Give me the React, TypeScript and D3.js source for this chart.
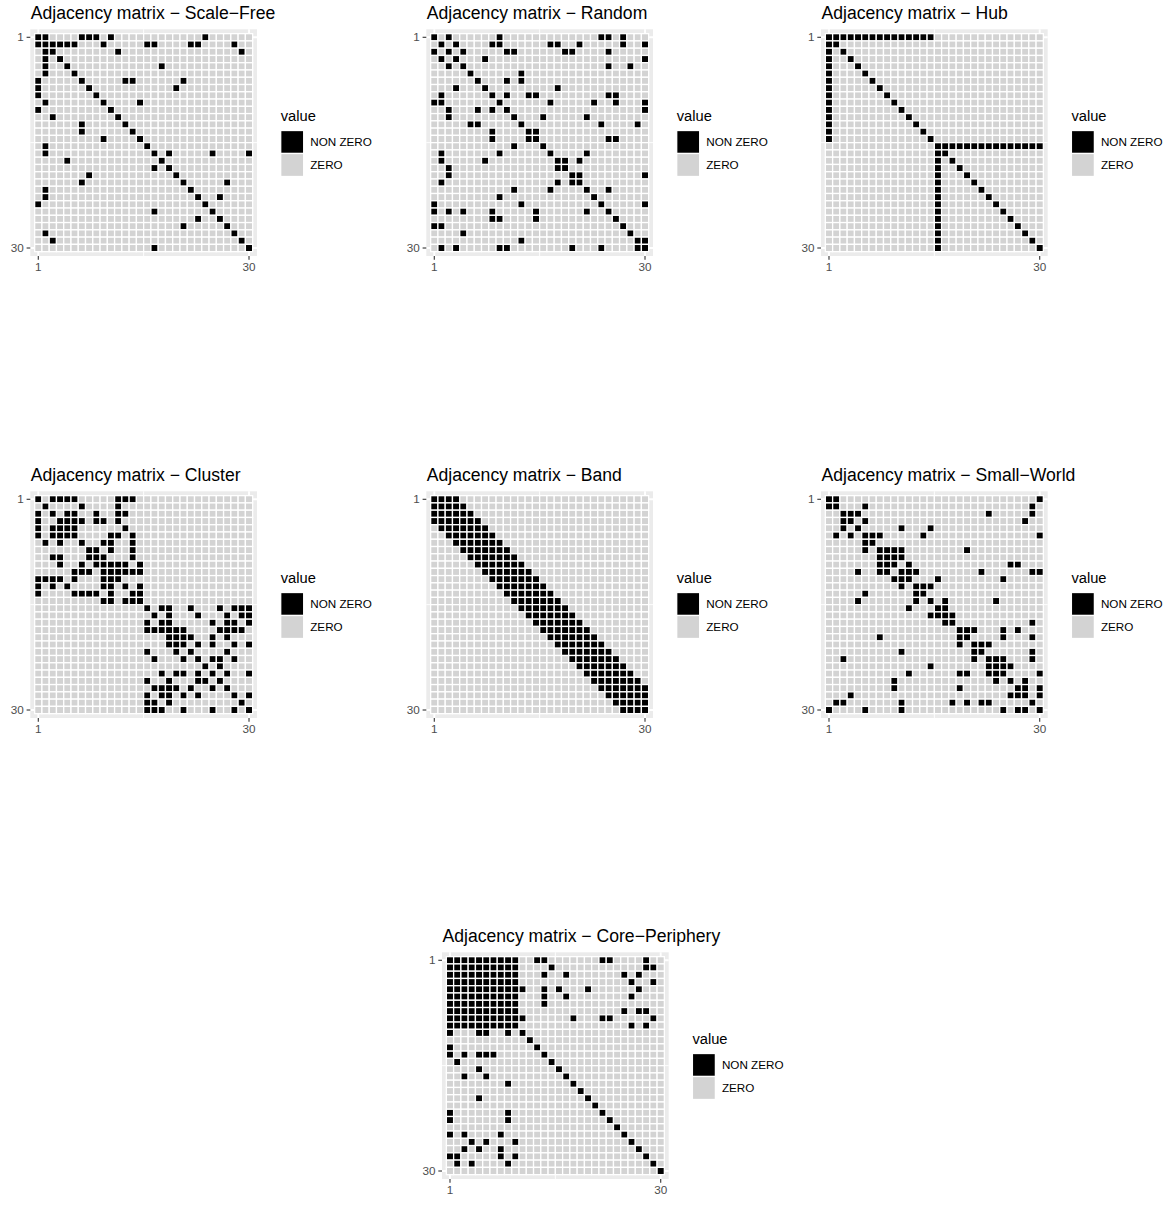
import React from "react";
import * as d3 from "d3";

const N = 30;
const tickLabels = ["1", "30"];
const tickValues = [1, 30];
const legendTitle = "value";
const legendLabels = ["NON ZERO", "ZERO"];
const legendColors = ["#000000", "#D3D3D3"];

const scaleFreeRows: number[][] = [
  [1, 2, 7, 8, 9, 11, 24],
  [1, 2, 3, 4, 5, 6, 10, 16, 17, 22, 23, 28],
  [2, 3, 12, 29],
  [2, 4],
  [2, 5, 18],
  [2, 6],
  [1, 7, 13, 14, 21],
  [1, 8, 20],
  [1, 9],
  [2, 10, 15],
  [1, 11],
  [3, 12],
  [7, 13],
  [7, 14],
  [10, 15],
  [2, 16],
  [2, 17, 19, 25, 30],
  [5, 18],
  [17, 19],
  [8, 20],
  [7, 21, 27],
  [2, 22],
  [2, 23, 26],
  [1, 24],
  [17, 25],
  [23, 26],
  [21, 27],
  [2, 28],
  [3, 29],
  [17, 30],
];

const randomRows: number[][] = [
  [1, 3, 10, 24, 25, 27],
  [2, 4, 9, 10, 17, 18, 21, 27, 30],
  [1, 3, 5, 11, 12, 19, 20, 25],
  [2, 4, 8, 30],
  [3, 5, 25, 28],
  [6, 13],
  [7, 11, 13],
  [4, 8, 18],
  [2, 9, 11, 14, 15, 25, 26],
  [1, 2, 10, 17, 23, 26, 30],
  [3, 7, 9, 11, 30],
  [3, 12, 16, 22],
  [6, 7, 13, 24, 29],
  [9, 14, 15],
  [9, 14, 15, 25, 26],
  [12, 16],
  [2, 10, 17, 22],
  [2, 8, 18, 19, 21],
  [3, 18, 19],
  [3, 20, 21, 30],
  [2, 18, 20, 21],
  [12, 17, 22, 25],
  [10, 23],
  [1, 13, 24, 30],
  [1, 3, 5, 9, 15, 22, 25],
  [9, 10, 15, 26],
  [1, 2, 27],
  [5, 28],
  [13, 29, 30],
  [2, 4, 10, 11, 20, 24, 29, 30],
];

const hubRows: number[][] = [
  [1, 2, 3, 4, 5, 6, 7, 8, 9, 10, 11, 12, 13, 14, 15],
  [1, 2],
  [1, 3],
  [1, 4],
  [1, 5],
  [1, 6],
  [1, 7],
  [1, 8],
  [1, 9],
  [1, 10],
  [1, 11],
  [1, 12],
  [1, 13],
  [1, 14],
  [1, 15],
  [16, 17, 18, 19, 20, 21, 22, 23, 24, 25, 26, 27, 28, 29, 30],
  [16, 17],
  [16, 18],
  [16, 19],
  [16, 20],
  [16, 21],
  [16, 22],
  [16, 23],
  [16, 24],
  [16, 25],
  [16, 26],
  [16, 27],
  [16, 28],
  [16, 29],
  [16, 30],
];

const clusterRows: number[][] = [
  [1, 3, 4, 5, 6, 12, 13, 14],
  [2, 7, 12],
  [1, 3, 5, 6, 9, 12, 13],
  [1, 4, 5, 6, 7, 9, 10, 12],
  [1, 3, 4, 5, 6, 13],
  [1, 3, 4, 5, 6, 11, 12, 14],
  [2, 4, 7, 10, 11, 14],
  [8, 9, 11, 14],
  [3, 4, 8, 9, 10, 14],
  [4, 7, 9, 10, 11, 12, 13, 15],
  [6, 7, 8, 10, 11, 12, 13, 14, 15],
  [1, 2, 3, 4, 6, 10, 11, 12],
  [1, 3, 5, 10, 11, 13, 15],
  [1, 6, 7, 8, 9, 11, 14, 15],
  [10, 11, 13, 14, 15],
  [16, 18, 19, 22, 26, 28, 29, 30],
  [17, 19, 23, 27, 29, 30],
  [16, 18, 19, 25, 27, 28, 30],
  [16, 17, 18, 19, 20, 21, 26, 27, 28, 29],
  [19, 20, 21, 22, 25, 27],
  [19, 20, 21, 23, 25, 28, 30],
  [16, 20, 22, 27],
  [17, 21, 23, 25, 26, 28],
  [24, 26],
  [18, 20, 21, 23, 25, 27, 30],
  [16, 19, 23, 24, 26],
  [17, 18, 19, 20, 22, 25, 27],
  [16, 18, 19, 21, 23, 28, 30],
  [16, 17, 19, 29],
  [16, 17, 18, 21, 25, 28, 30],
];

const bandRows: number[][] = [
  [1, 2, 3, 4],
  [1, 2, 3, 4, 5],
  [1, 2, 3, 4, 5, 6],
  [1, 2, 3, 4, 5, 6, 7],
  [2, 3, 4, 5, 6, 7, 8],
  [3, 4, 5, 6, 7, 8, 9],
  [4, 5, 6, 7, 8, 9, 10],
  [5, 6, 7, 8, 9, 10, 11],
  [6, 7, 8, 9, 10, 11, 12],
  [7, 8, 9, 10, 11, 12, 13],
  [8, 9, 10, 11, 12, 13, 14],
  [9, 10, 11, 12, 13, 14, 15],
  [10, 11, 12, 13, 14, 15, 16],
  [11, 12, 13, 14, 15, 16, 17],
  [12, 13, 14, 15, 16, 17, 18],
  [13, 14, 15, 16, 17, 18, 19],
  [14, 15, 16, 17, 18, 19, 20],
  [15, 16, 17, 18, 19, 20, 21],
  [16, 17, 18, 19, 20, 21, 22],
  [17, 18, 19, 20, 21, 22, 23],
  [18, 19, 20, 21, 22, 23, 24],
  [19, 20, 21, 22, 23, 24, 25],
  [20, 21, 22, 23, 24, 25, 26],
  [21, 22, 23, 24, 25, 26, 27],
  [22, 23, 24, 25, 26, 27, 28],
  [23, 24, 25, 26, 27, 28, 29],
  [24, 25, 26, 27, 28, 29, 30],
  [25, 26, 27, 28, 29, 30],
  [26, 27, 28, 29, 30],
  [27, 28, 29, 30],
];

const smallWorldRows: number[][] = [
  [1, 2, 30],
  [1, 2, 6, 29],
  [3, 4, 5, 23, 29],
  [3, 4, 6, 28],
  [3, 5, 11, 15],
  [2, 4, 6, 7, 8, 14, 30],
  [6, 7],
  [6, 8, 9, 10, 11, 20],
  [8, 9, 10, 11],
  [8, 9, 10, 12, 26, 27],
  [5, 8, 9, 11, 12, 13, 22, 29, 30],
  [10, 11, 12, 16, 25],
  [11, 13, 14, 15],
  [6, 13, 14],
  [5, 13, 15, 17, 24],
  [12, 16, 17],
  [15, 16, 17, 18],
  [17, 18, 29],
  [19, 20, 21, 25, 27],
  [8, 19, 20, 25, 29],
  [19, 21, 22, 23],
  [11, 21, 22, 29],
  [3, 21, 23, 24, 25, 29],
  [15, 23, 24, 25, 26],
  [12, 19, 20, 23, 24, 25, 30],
  [10, 24, 26, 28],
  [10, 19, 27, 28, 30],
  [4, 26, 27, 28, 30],
  [2, 3, 11, 18, 20, 22, 23, 29],
  [1, 6, 11, 25, 27, 28, 30],
];

const corePeripheryRows: number[][] = [
  [1, 2, 3, 4, 5, 6, 7, 8, 9, 10, 13, 14, 22, 23, 28],
  [1, 2, 3, 4, 5, 6, 7, 8, 9, 10, 15, 28, 29],
  [1, 2, 3, 4, 5, 6, 7, 8, 9, 10, 14, 17, 25, 27],
  [1, 2, 3, 4, 5, 6, 7, 8, 9, 10, 26, 29],
  [1, 2, 3, 4, 5, 6, 7, 8, 9, 10, 11, 14, 16, 20, 27],
  [1, 2, 3, 4, 5, 6, 7, 8, 9, 10, 14, 17, 26],
  [1, 2, 3, 4, 5, 6, 7, 8, 9, 10, 14],
  [1, 2, 3, 4, 5, 6, 7, 8, 9, 10, 25, 27, 28],
  [1, 2, 3, 4, 5, 6, 7, 8, 9, 10, 11, 18, 22, 23, 29],
  [1, 2, 3, 4, 5, 6, 7, 8, 9, 10, 26, 28],
  [1, 5, 6, 9, 11],
  [12],
  [1, 13],
  [1, 3, 5, 6, 7, 14],
  [2, 15],
  [5, 16],
  [3, 6, 17],
  [9, 18],
  [19],
  [5, 20],
  [21],
  [1, 9, 22],
  [1, 9, 23],
  [24],
  [1, 3, 8, 25],
  [4, 6, 10, 26],
  [3, 5, 8, 27],
  [1, 2, 8, 10, 28],
  [2, 4, 9, 29],
  [30],
];

const titles = [
  "Adjacency matrix \u2212 Scale\u2212Free",
  "Adjacency matrix \u2212 Random",
  "Adjacency matrix \u2212 Hub",
  "Adjacency matrix \u2212 Cluster",
  "Adjacency matrix \u2212 Band",
  "Adjacency matrix \u2212 Small\u2212World",
  "Adjacency matrix \u2212 Core\u2212Periphery",
];
const matrices = [
  scaleFreeRows,
  randomRows,
  hubRows,
  clusterRows,
  bandRows,
  smallWorldRows,
  corePeripheryRows,
];

// layout (panel top-left corners)
const panelPos = [
  [30.3, 29.3],
  [426.3, 29.3],
  [821, 29.3],
  [30.3, 491.3],
  [426.3, 491.3],
  [821, 491.3],
  [442, 952.3],
];

const PANEL = 226.7;
const FONT = "'Liberation Sans', Arial, Helvetica, sans-serif";

function Panel({ title, rows, left, top }: { title: string; rows: number[][]; left: number; top: number }) {
  const x = d3.scaleLinear().domain([-0.1, N + 1.1]).range([0, PANEL]);
  const y = d3.scaleLinear().domain([-0.1, N + 1.1]).range([0, PANEL]);
  const cw = x(1) - x(0);
  const cells: React.ReactNode[] = [];
  for (let r = 1; r <= N; r++) {
    const set = new Set(rows[r - 1]);
    for (let c = 1; c <= N; c++) {
      const nz = set.has(c);
      cells.push(
        <rect
          key={`${r}-${c}`}
          x={x(c - 0.5)}
          y={y(r - 0.5)}
          width={cw}
          height={cw}
          fill={nz ? legendColors[0] : legendColors[1]}
          stroke="#FFFFFF"
          strokeWidth={1.3}
        />
      );
    }
  }
  const minor = (tickValues[0] + tickValues[1]) / 2;
  const lx = PANEL + 23.7;
  const keySize = 23;
  return (
    <g transform={`translate(${left},${top})`}>
      <text x={0.5} y={-10} fontSize={17.6} fontFamily={FONT} fill="#000">
        {title}
      </text>
      <rect x={0} y={0} width={PANEL} height={PANEL} fill="#EBEBEB" />
      <line x1={x(minor)} x2={x(minor)} y1={0} y2={PANEL} stroke="#fff" strokeWidth={0.95} />
      <line y1={y(minor)} y2={y(minor)} x1={0} x2={PANEL} stroke="#fff" strokeWidth={0.95} />
      {tickValues.map((v) => (
        <g key={"g" + v}>
          <line x1={x(v)} x2={x(v)} y1={0} y2={PANEL} stroke="#fff" strokeWidth={1.9} />
          <line y1={y(v)} y2={y(v)} x1={0} x2={PANEL} stroke="#fff" strokeWidth={1.9} />
        </g>
      ))}
      {cells}
      {tickValues.map((v, i) => (
        <g key={"t" + v}>
          <line x1={-3.7} x2={0} y1={y(v)} y2={y(v)} stroke="#333333" strokeWidth={1.1} />
          <text
            x={-6.6}
            y={y(v) + 4.1}
            textAnchor="end"
            fontSize={11.7}
            fontFamily={FONT}
            fill="#4D4D4D"
          >
            {tickLabels[i]}
          </text>
          <line x1={x(v)} x2={x(v)} y1={PANEL} y2={PANEL + 3.7} stroke="#333333" strokeWidth={1.1} />
          <text
            x={x(v)}
            y={PANEL + 15.4}
            textAnchor="middle"
            fontSize={11.7}
            fontFamily={FONT}
            fill="#4D4D4D"
          >
            {tickLabels[i]}
          </text>
        </g>
      ))}
      <text x={lx} y={92} fontSize={14.7} fontFamily={FONT} fill="#000">
        {legendTitle}
      </text>
      {legendLabels.map((lab, i) => (
        <g key={lab}>
          <rect
            x={lx}
            y={101.2 + i * keySize}
            width={keySize}
            height={keySize}
            fill={legendColors[i]}
            stroke="#FFFFFF"
            strokeWidth={1.3}
          />
          <text
            x={lx + keySize + 6.5}
            y={101.2 + i * keySize + keySize / 2 + 4.1}
            fontSize={11.7}
            fontFamily={FONT}
            fill="#000"
          >
            {lab}
          </text>
        </g>
      ))}
    </g>
  );
}

export default function App() {
  return (
    <svg
      width={1175}
      height={1205}
      style={{ position: "absolute", left: 0, top: 0, background: "#fff" }}
    >
      <rect width={1175} height={1205} fill="#fff" />
      {matrices.map((rows, i) => (
        <Panel key={i} title={titles[i]} rows={rows} left={panelPos[i][0]} top={panelPos[i][1]} />
      ))}
    </svg>
  );
}
